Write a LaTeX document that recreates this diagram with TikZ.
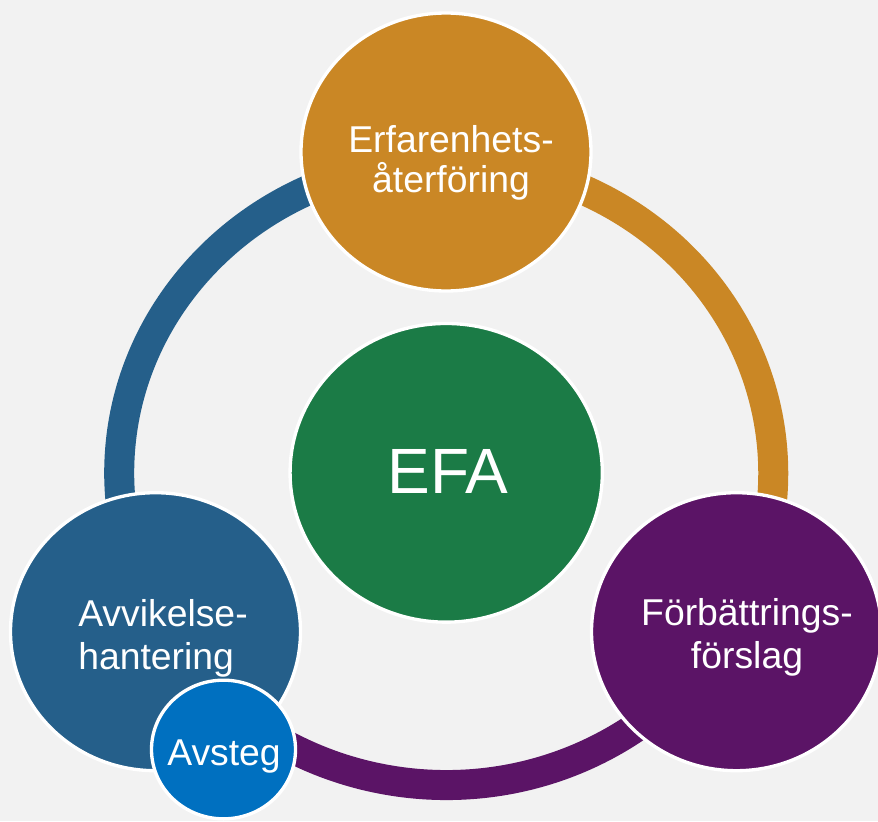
\documentclass[tikz,border=0pt]{standalone}
\usepackage{fontspec}
\setmainfont{Liberation Sans}
\usetikzlibrary{shapes.geometric}
\definecolor{bgc}{HTML}{F2F2F2}
\definecolor{orangec}{HTML}{CA8725}
\definecolor{bluec}{HTML}{255F8A}
\definecolor{greenc}{HTML}{1B7B46}
\definecolor{purplec}{HTML}{5B1466}
\definecolor{avstegc}{HTML}{0070C0}
\tikzset{
  ringarc/.style={line width=22.5pt, line cap=butt},
  bigcirc/.style={ellipse, draw=white, line width=2.5pt, inner sep=0pt,
    minimum width=217.5pt, minimum height=208.5pt},
  efacirc/.style={ellipse, draw=white, line width=2.5pt, inner sep=0pt,
    minimum width=234.2pt, minimum height=224pt},
  smallcirc/.style={ellipse, draw=white, line width=2.5pt, inner sep=0pt,
    minimum width=108pt, minimum height=104pt},
  lbl/.style={text=white, inner sep=0pt, font=\fontsize{28}{30}\selectfont},
  lblwide/.style={text=white, inner sep=0pt, font=\fontsize{28}{32.5}\selectfont},
  efalbl/.style={text=white, inner sep=0pt, font=\fontsize{48}{52}\selectfont}
}
\begin{document}
\begin{tikzpicture}[x=0.75pt, y=0.75pt]
\useasboundingbox (0,0) rectangle (878,-821);
\clip (0,0) rectangle (878,-821);
\fill[bgc] (0,0) rectangle (878,-821);
\coordinate (rc) at (446.2,-473);
% ring arcs
\draw[ringarc, bluec] ([shift={(90:327 and 312)}]rc) arc[start angle=90, end angle=210, x radius=327, y radius=312];
\draw[ringarc, purplec] ([shift={(210:327 and 312)}]rc) arc[start angle=210, end angle=330, x radius=327, y radius=312];
\draw[ringarc, orangec] ([shift={(-30:327 and 312)}]rc) arc[start angle=-30, end angle=90, x radius=327, y radius=312];
% circles
\node[bigcirc, fill=orangec] (ctop) at (446,-152) {};
\node[efacirc, fill=greenc] (cefa) at (446.2,-472.8) {};
\node[bigcirc, fill=purplec] (cright) at (736.5,-631.7) {};
\node[bigcirc, fill=bluec] (cleft) at (155.5,-631.7) {};
\node[smallcirc, fill=avstegc] (cavsteg) at (223.5,-749.5) {};
% labels
\node[lbl, align=center] (ttop) at (451,-162.4) {Erfarenhets-\\återföring};
\node[efalbl, anchor=base] (tefa) at (448,-493.3) {EFA};
\node[lblwide, align=center] (tright) at (747,-637.5) {Förbättrings-\\förslag};
\node[lblwide, align=left, anchor=west] (tleft) at (78,-638.5) {Avvikelse-\\hantering};
\node[lbl, anchor=base] (tavsteg) at (224,-765) {Avsteg};
\end{tikzpicture}
\end{document}
